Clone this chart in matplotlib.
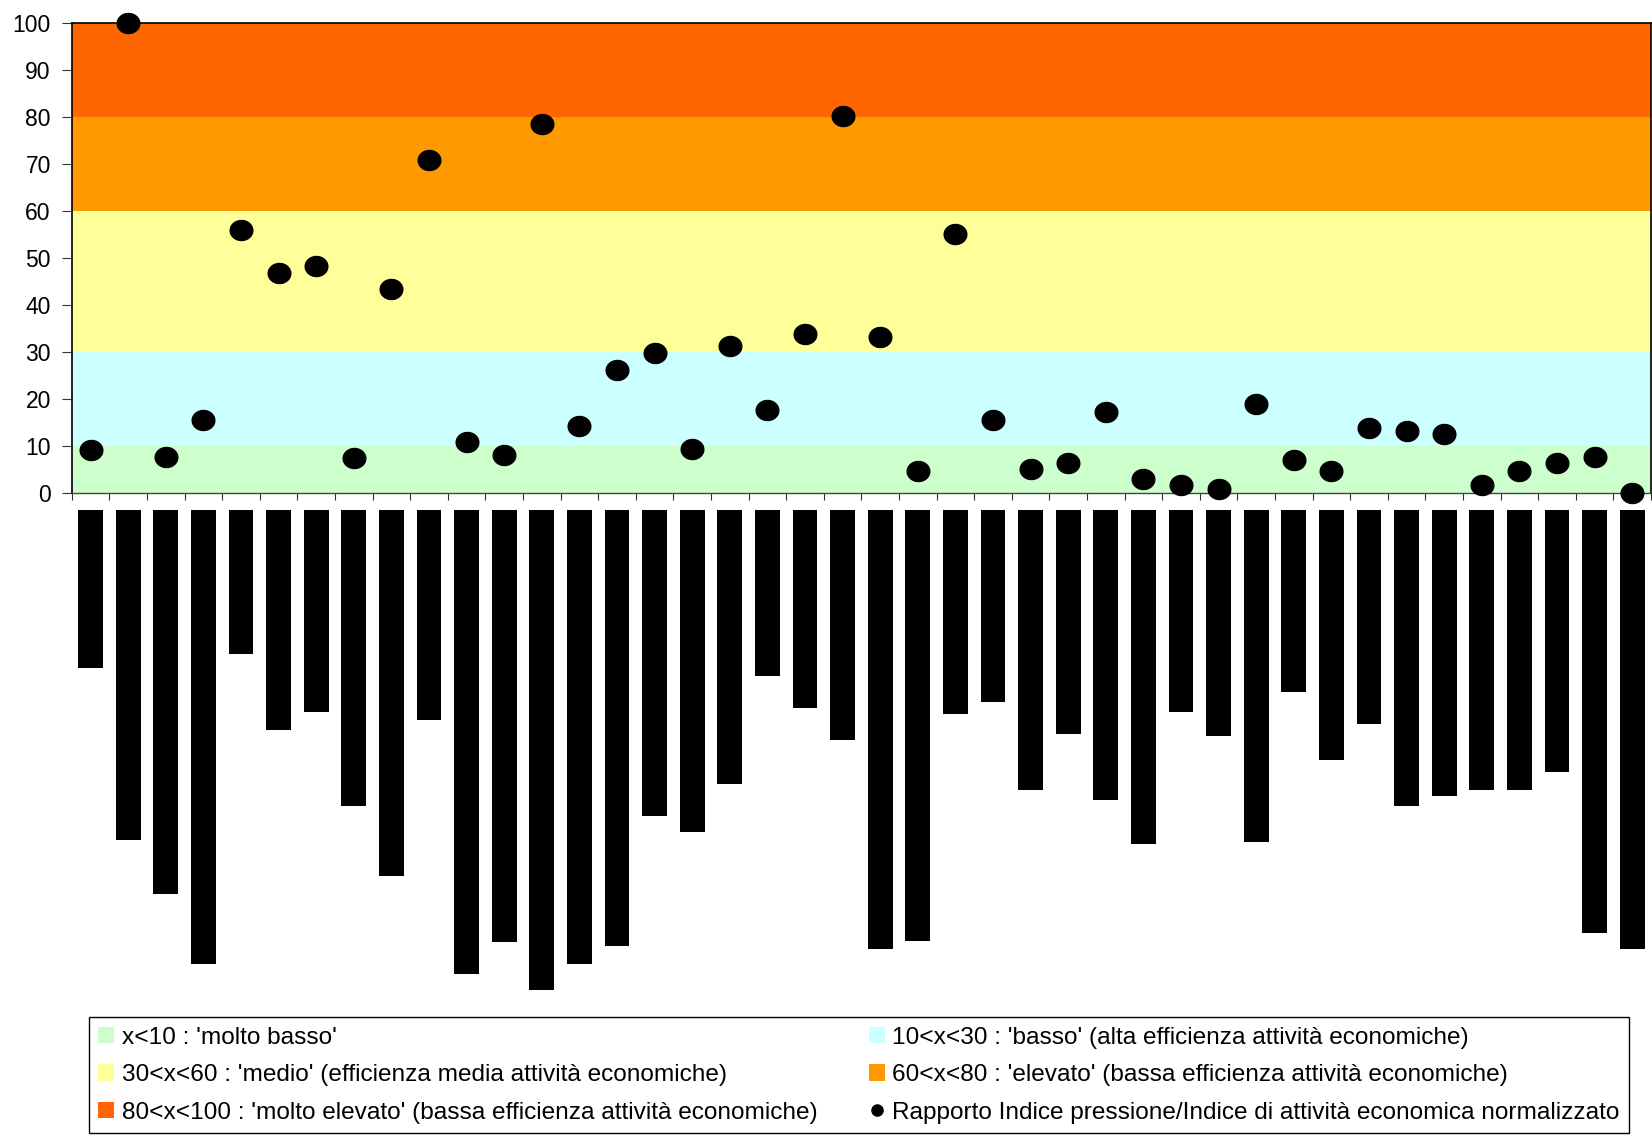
import numpy as np
import matplotlib
matplotlib.use("Agg")
import matplotlib.pyplot as plt
from matplotlib.patches import Patch
from matplotlib.lines import Line2D
from matplotlib.path import Path

plt.rcParams['font.family'] = ['Liberation Sans', 'DejaVu Sans']

# Rapporto Indice pressione / Indice di attivita' economica normalizzato (0-100)
ratio = [9.1, 100, 7.8, 15.5, 55.9, 46.9, 48.2, 7.4, 43.5, 70.8, 10.8, 8.2, 78.4, 14.2,
         26.1, 29.9, 9.5, 31.2, 17.6, 33.8, 80.1, 33.3, 4.8, 55.0, 15.5, 5.2, 6.5, 17.2,
         3.1, 1.8, 1.0, 18.9, 7.0, 4.8, 13.8, 13.3, 12.5, 1.8, 4.8, 6.5, 7.8, 0.1]

# hanging bars below the chart (arbitrary units, no axis in the original)
activity = [158, 330, 384, 454, 144, 220, 202, 296, 366, 210, 464, 432, 480, 454,
            436, 306, 322, 274, 166, 198, 230, 439, 431, 204, 192, 280, 224, 290,
            334, 202, 226, 332, 182, 250, 214, 296, 286, 280, 280, 262, 423, 439]

# classes
band_lo = [0, 10, 30, 60, 80]
band_hi = [10, 30, 60, 80, 100]
band_colors = ['#CCFFCC', '#CCFFFF', '#FFFF99', '#FF9900', '#FF6600']
band_labels = ["x<10 : 'molto basso'",
               "10<x<30 : 'basso' (alta efficienza attività economiche)",
               "30<x<60 : 'medio' (efficienza media attività economiche)",
               "60<x<80 : 'elevato' (bassa efficienza attività economiche)",
               "80<x<100 : 'molto elevato' (bassa efficienza attività economiche)"]
dot_label = "Rapporto Indice pressione/Indice di attività economica normalizzato"

W, H = 1652, 1139
fig = plt.figure(figsize=(W / 100, H / 100), dpi=100)

x = np.arange(len(ratio))

# top panel with coloured bands and dots
ax = fig.add_axes([71.7 / W, 1 - 493.3 / H, (1651 - 71.7) / W, (493.3 - 22.7) / H])
for lo, hi, c in zip(band_lo, band_hi, band_colors):
    ax.axhspan(lo, hi, color=c, zorder=0, lw=0)

# slightly wide ellipse marker
t = np.linspace(0, 2 * np.pi, 60)
ellipse = Path(np.column_stack([1.13 * np.cos(t), np.sin(t)]), closed=True)
ax.plot(x, ratio, linestyle='none', marker=ellipse, markersize=16.3,
        color='black', zorder=5, clip_on=False)

ax.set_xlim(-0.5, len(ratio) - 0.5)
ax.set_ylim(0, 100)
ax.set_yticks(range(0, 101, 10))
ax.set_xticks(np.arange(-0.5, len(ratio), 1))
ax.set_xticklabels([])
ax.tick_params(axis='y', length=7, pad=8, labelsize=16.5, color='#333333')
ax.tick_params(axis='x', length=5, color='#333333')
for s in ['left', 'top', 'right']:
    ax.spines[s].set_color('black')
    ax.spines[s].set_linewidth(1.2)
ax.spines['bottom'].set_color('#444444')
ax.spines['bottom'].set_linewidth(1.0)

# bottom panel: bars hanging down
ax2 = fig.add_axes([71.7 / W, 1 - 1009.5 / H, (1651 - 71.7) / W, 500 / H])
ax2.bar(x, activity, width=0.66, color='black')
ax2.set_xlim(-0.5, len(ratio) - 0.5)
ax2.set_ylim(500, 0)
ax2.axis('off')

# legend, filled row by row
handles = [Patch(facecolor=c, edgecolor='none') for c in band_colors]
handles.append(Line2D([], [], marker='o', color='black', linestyle='none', markersize=8))
labels = band_labels + [dot_label]
order = [0, 2, 4, 1, 3, 5]
fig.legend([handles[i] for i in order], [labels[i] for i in order],
           ncol=2, loc='upper left', mode='expand',
           bbox_to_anchor=(88.5 / W, 1 - 1135 / H, (1629 - 88.5) / W, (1135 - 1017) / H),
           borderaxespad=0, fontsize=17.6, frameon=True, fancybox=False,
           edgecolor='black', framealpha=1, handlelength=0.65, handleheight=0.65,
           handletextpad=0.3, labelspacing=0.63, borderpad=0.4, columnspacing=1.0)
fig.legends[0].get_frame().set_linewidth(1.0)

fig.savefig('out.png', dpi=100)
